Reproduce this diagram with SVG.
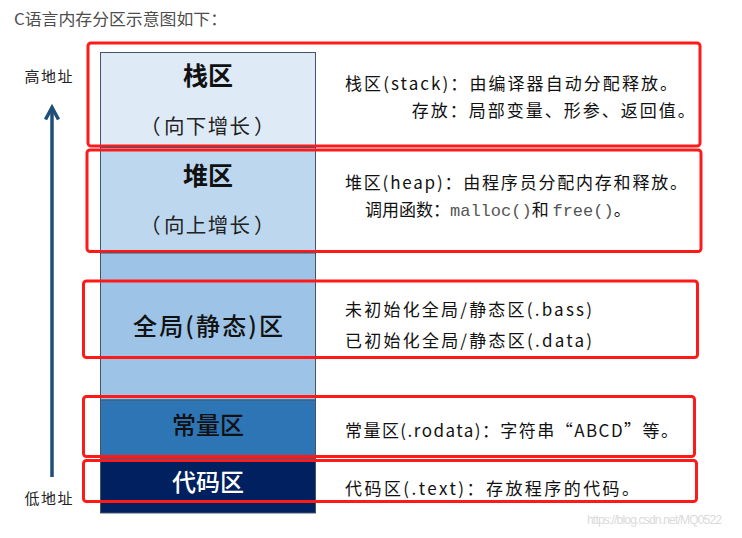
<svg xmlns="http://www.w3.org/2000/svg" width="742" height="538" viewBox="0 0 742 538">
<style>
text{font-family:"Noto Sans CJK SC","Noto Sans",sans-serif;}
.title{font-size:16px;fill:#4d4d4d;}
.addr{font-size:15px;fill:#222;}
.big{font-size:24px;fill:#111;text-anchor:middle;font-weight:500;}
.bold{font-weight:bold;font-size:25px;}
.sub{font-size:20.5px;fill:#222;}
.desc{font-size:17px;fill:#111;}
.mono{font-family:"Liberation Mono","DejaVu Sans Mono",monospace;fill:#555;}
.sec{stroke:#44546a;stroke-width:1;}
.red{fill:none;stroke:#ff1a1a;stroke-width:3;}
.garrow{fill:none;stroke:#41719c;stroke-width:4;stroke-linecap:butt;}
.aarrow{fill:none;stroke:#1f4e79;stroke-width:3.5;}
.wm{font-family:"Liberation Sans",Arial,sans-serif;font-size:12px;fill:#dadada;}
</style>
<rect width="742" height="538" fill="#ffffff"/>
<text class="title" x="14" y="24.5" textLength="213" lengthAdjust="spacingAndGlyphs">C语言内存分区示意图如下：</text>

<g id="address-axis">
  <text class="addr" x="24.5" y="82" textLength="48">高地址</text>
  <text class="addr" x="24.5" y="504" textLength="48">低地址</text>
</g>

<g id="connectors">
  <line class="aarrow" x1="52" y1="477" x2="52" y2="108"/>
  <polyline class="aarrow" points="45.5,119.5 52,107.5 58.5,119.5"/>
  <line class="garrow" x1="289.5" y1="62" x2="289.5" y2="132"/>
  <polyline class="garrow" points="281.5,120 289.5,133 297.5,120"/>
  <line class="garrow" x1="289.5" y1="240" x2="289.5" y2="168"/>
  <polyline class="garrow" points="281.5,180 289.5,167 297.5,180"/>
</g>

<g id="stack">
  <rect class="sec" x="100.5" y="52.5" width="215" height="95" fill="#deebf7"/>
  <text class="big bold" x="208" y="85">栈区</text>
  <text class="sub" y="133.5"><tspan x="140">（</tspan><tspan x="164" textLength="86">向下增长</tspan><tspan x="254">）</tspan></text>
  <rect class="red" x="88" y="43" width="612" height="103" rx="3"/>
  <text class="desc" x="345" y="89.5" textLength="332">栈区(stack)：由编译器自动分配释放。</text>
  <text class="desc" x="411.7" y="117" textLength="283">存放：局部变量、形参、返回值。</text>
</g>

<g id="heap">
  <rect class="sec" x="100.5" y="147.5" width="215" height="105.5" fill="#bdd7ee"/>
  <text class="big bold" x="208" y="185">堆区</text>
  <text class="sub" y="233"><tspan x="140">（</tspan><tspan x="164" textLength="86">向上增长</tspan><tspan x="254">）</tspan></text>
  <rect class="red" x="87" y="150" width="614" height="101.5" rx="3"/>
  <text class="desc" x="345" y="188.5" textLength="342">堆区(heap)：由程序员分配内存和释放。</text>
  <text class="desc" x="365" y="215.5">调用函数：<tspan class="mono">malloc()</tspan>和 <tspan class="mono">free()</tspan>。</text>
</g>

<g id="global">
  <rect class="sec" x="100.5" y="253" width="215" height="147" fill="#9dc3e6"/>
  <text class="big" x="208" y="335" textLength="150">全局(静态)区</text>
  <rect class="red" x="83.5" y="281" width="614" height="76.5" rx="3"/>
  <text class="desc" x="345" y="315.5" textLength="247">未初始化全局/静态区(.bass)</text>
  <text class="desc" x="345" y="346.5" textLength="247">已初始化全局/静态区(.data)</text>
</g>

<g id="const">
  <rect class="sec" x="100.5" y="400" width="215" height="59" fill="#2e75b6"/>
  <text class="big" x="208" y="434">常量区</text>
  <rect class="red" x="83.5" y="396.5" width="611" height="60" rx="3"/>
  <text class="desc" x="345" y="436.5" textLength="333">常量区(.rodata)：字符串“ABCD”等。</text>
</g>

<g id="code">
  <rect class="sec" x="100.5" y="459" width="215" height="54" fill="#002060"/>
  <text class="big" x="208" y="491" style="fill:#ffffff">代码区</text>
  <rect class="red" x="83.5" y="460.5" width="613" height="41" rx="3"/>
  <text class="desc" x="345" y="494.5" textLength="294">代码区(.text)：存放程序的代码。</text>
</g>

<text class="wm" x="587" y="524" textLength="135">https://blog.csdn.net/MQ0522</text>
</svg>
